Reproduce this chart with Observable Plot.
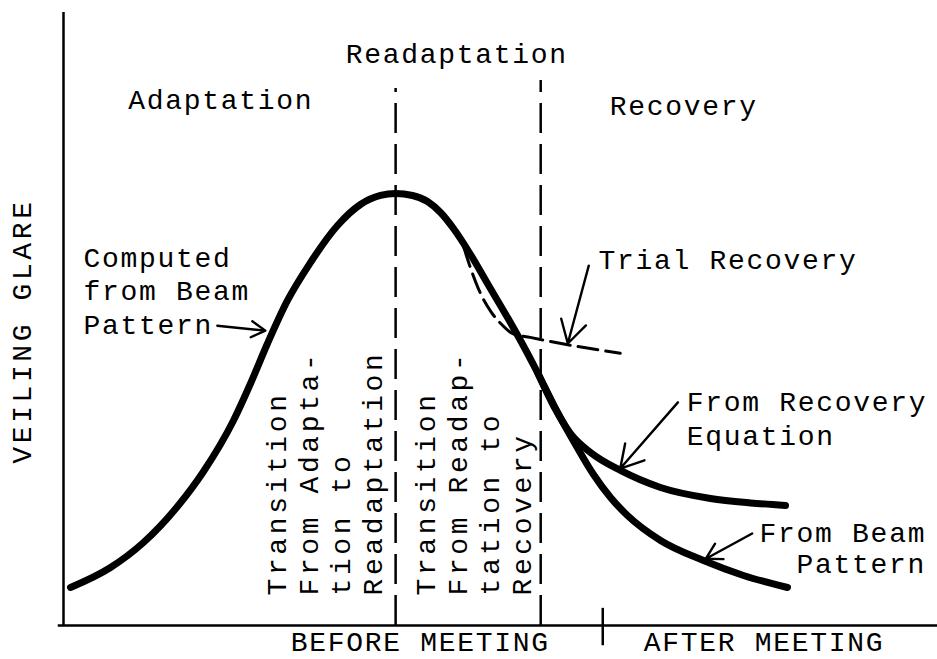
<!DOCTYPE html>
<html><head><meta charset="utf-8">
<script src="https://cdn.jsdelivr.net/npm/d3@7"></script>
<script src="https://cdn.jsdelivr.net/npm/@observablehq/plot@0.6"></script>
<style>body{margin:0;background:#fff}</style>
</head><body><div id="chart"></div>
<script>
// Schematic units: time (x, 0–100) and veiling glare (y, 0–100)
const beamX = [0.80, 5.38, 9.15, 13.04, 16.02, 19.45, 21.40, 23.34, 25.63, 28.26, 31.35, 33.98, 36.27, 37.99, 39.93, 41.65, 43.14, 44.62, 46.57, 48.51, 50.80, 52.29, 54.23, 56.06, 58.58, 60.64, 62.59, 64.53, 68.31, 73.23, 77.80, 82.84];
const beamY = [6.20, 9.46, 13.54, 19.41, 25.12, 33.44, 39.48, 46.00, 53.02, 59.22, 65.25, 68.68, 70.15, 70.47, 70.15, 69.17, 67.37, 64.76, 60.52, 55.79, 50.24, 46.49, 41.27, 36.05, 29.53, 24.63, 20.88, 17.94, 13.87, 10.60, 8.16, 6.20];
const recoveryX = [54.23, 56.06, 58.01, 60.30, 63.73, 68.31, 74.03, 78.60, 82.61];
const recoveryY = [41.27, 35.89, 31.30, 28.22, 25.29, 22.51, 20.72, 20.00, 19.58];
const trialX = [45.8, 46.6, 47.7, 48.9, 50.0, 51.4, 53.4, 57.7, 63.7];
const trialY = [61.7, 58.2, 54.2, 51.2, 49.3, 47.6, 47.0, 45.8, 44.4];
const phaseX = [38.0, 54.6];
const phaseTop = [87.6, 88.9];
const meetingX = 61.7;
const meetingTick = [-3.3, 2.8];

const arrowX1 = [17.6, 60.1, 70.3, 78.8];
const arrowY1 = [48.9, 58.7, 36.4, 15.0];
const arrowX2 = [23.1, 57.7, 63.7, 73.5];
const arrowY2 = [48.1, 46.0, 25.6, 10.9];

const labelText = ["Readaptation", "Adaptation", "Recovery", "Trial Recovery", "Computed\nfrom Beam\nPattern", "From Recovery\nEquation", "BEFORE MEETING", "AFTER MEETING"];
const labelX = [32.3, 7.4, 62.5, 61.2, 2.3, 71.3, 26.0, 66.4];
const labelY = [91.8, 84.3, 83.2, 58.1, 47.6, 29.5, -4.2, -4.2];
const beamLabel = "From Beam\nPattern";
const beamLabelX = 98.7, beamLabelY = 8.5;

const transText = ["Transition\nFrom Adapta-\ntion to\nReadaptation", "Transition\nFrom Readap-\ntation to\nRecovery"];
const transX = [29.8, 46.8];
const transY = [4.9, 4.9];
const yTitle = "VEILING GLARE";
const yTitleX = -4.7, yTitleY = 26.4;

const pts = (xs, ys) => xs.map((x, i) => ({x, y: ys[i]}));
const beam = pts(beamX, beamY);
const recovery = pts(recoveryX, recoveryY);
const trial = pts(trialX, trialY);
const phases = phaseX.map((x, i) => ({x, top: phaseTop[i]}));
const arrows = arrowX1.map((x1, i) => ({x1, y1: arrowY1[i], x2: arrowX2[i], y2: arrowY2[i]}));
const labels = labelText.map((t, i) => ({t, x: labelX[i], y: labelY[i]}));
const trans = transText.map((t, i) => ({t, x: transX[i], y: transY[i]}));

const fs = 28;
const chart = Plot.plot({
  width: 937, height: 659,
  marginLeft: 63, marginRight: 0, marginTop: 12, marginBottom: 34,
  x: {domain: [0, 100], axis: null},
  y: {domain: [0, 100], axis: null},
  style: {fontFamily: "Liberation Mono", background: "#fff", color: "#000", letterSpacing: "1.7px", overflow: "visible"},
  marks: [
    Plot.ruleX([0], {y1: 0, y2: 100, strokeWidth: 2.5}),
    Plot.ruleY([0], {x1: -0.6, x2: 100, strokeWidth: 2.5}),
    Plot.ruleX(phases, {x: "x", y1: 0, y2: "top", strokeWidth: 2.5, strokeDasharray: "30,11"}),
    Plot.ruleX([meetingX], {y1: meetingTick[0], y2: meetingTick[1], strokeWidth: 2.5}),
    Plot.line(trial, {x: "x", y: "y", curve: "monotone-x", strokeWidth: 3, strokeDasharray: "20,8"}),
    Plot.line(beam, {x: "x", y: "y", curve: "monotone-x", strokeWidth: 7, strokeLinecap: "round"}),
    Plot.line(recovery, {x: "x", y: "y", curve: "monotone-x", strokeWidth: 7, strokeLinecap: "round"}),
    Plot.arrow(arrows, {x1: "x1", y1: "y1", x2: "x2", y2: "y2", strokeWidth: 2.4, headLength: 16}),
    Plot.text(labels, {x: "x", y: "y", text: "t", textAnchor: "start", lineAnchor: "bottom", fontSize: fs, lineHeight: 1.2, fill: "#000"}),
    Plot.text([beamLabel], {x: beamLabelX, y: beamLabelY, text: d => d, textAnchor: "end", lineAnchor: "bottom", fontSize: fs, lineHeight: 1.12, fill: "#000"}),
    Plot.text(trans, {x: "x", y: "y", text: "t", rotate: -90, textAnchor: "start", lineAnchor: "middle", fontSize: fs, lineHeight: 1.14, fill: "#000", ariaDescription: "rotated"}),
    Plot.text([yTitle], {x: yTitleX, y: yTitleY, text: d => d, rotate: -90, textAnchor: "start", lineAnchor: "middle", fontSize: fs, fill: "#000", ariaDescription: "rotated"})
  ]
});
chart.querySelectorAll('[aria-description="rotated"]').forEach(g => g.style.letterSpacing = "3.6px");
document.getElementById("chart").appendChild(chart);
</script>
</body></html>
